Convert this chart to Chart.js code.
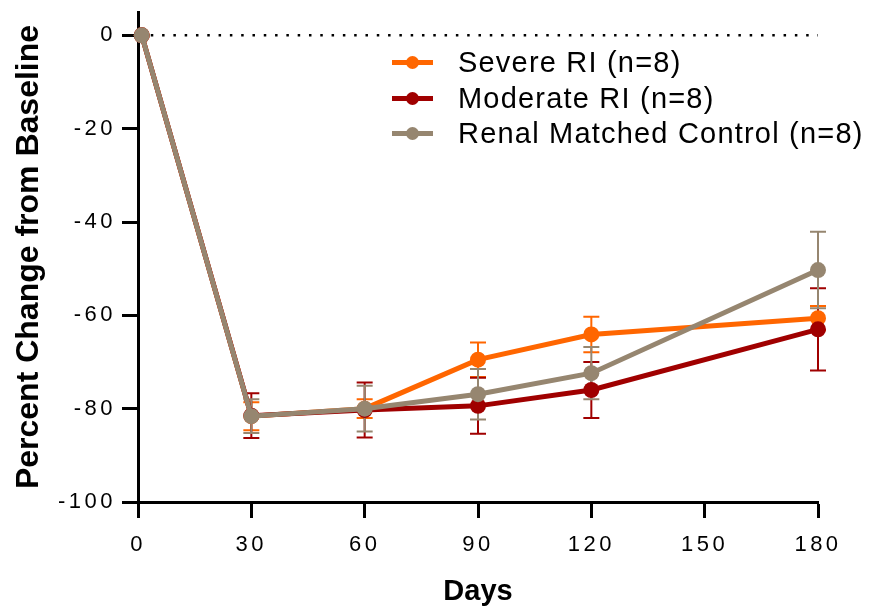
<!DOCTYPE html>
<html>
<head>
<meta charset="utf-8">
<script src="https://cdn.jsdelivr.net/npm/chart.js@4.4.1/dist/chart.umd.min.js"></script>
<style>
  html,body{margin:0;padding:0;background:#fff}
  #wrap{position:relative;width:870px;height:606px}
  #lg{position:absolute;left:392px;top:45px;font:29px 'Liberation Sans',Arial,sans-serif;letter-spacing:1.2px;color:#000}
  #lg div{height:35.5px;display:flex;align-items:center;white-space:nowrap}
  #lg i{display:inline-block;position:relative;width:41px;height:5px;margin-right:25px}
  #lg b{position:absolute;left:14px;top:-4px;width:13px;height:13px;border-radius:50%}
</style>
</head>
<body>
<div id="wrap">
  <canvas id="c"></canvas>
  <div id="lg"></div>
</div>
<script>
/* 기준 대비 변화율 — 그룹별 평균 ± SD */
const DAYS      = [1, 30, 60, 90, 120, 180];
const X_TICKS   = [0, 30, 60, 90, 120, 150, 180];
const Y_TICKS   = [-100, -80, -60, -40, -20, 0];

const NAMES     = ['Severe RI (n=8)', 'Moderate RI (n=8)', 'Renal Matched Control (n=8)'];
const COLORS    = ['#FF6600', '#A00000', '#968670'];

const SEVERE      = [0, -81.6, -80.0, -69.5, -64.1, -60.6];
const SEVERE_SD   = [0,   3.0,   2.0,   3.7,   3.8,   2.6];
const MODERATE    = [0, -81.5, -80.3, -79.4, -76.0, -63.0];
const MODERATE_SD = [0,   4.8,   5.9,   6.0,   6.0,   8.8];
const CONTROL     = [0, -81.6, -80.0, -76.9, -72.4, -50.3];
const CONTROL_SD  = [0,   3.6,   4.9,   5.4,   5.6,   8.2];

const VALUES = [SEVERE, MODERATE, CONTROL];
const SDS    = [SEVERE_SD, MODERATE_SD, CONTROL_SD];

const FONT = "'Liberation Sans', Arial, sans-serif";

/* ── 오차막대 + 0 기준 점선 ─────────────────────────────── */
const errorBars = {
  id:'errorBars',
  beforeDraw(chart){ chart.ctx.letterSpacing = '0px'; },
  beforeDatasetsDraw(chart){
    const {ctx, scales:{x, y}} = chart;
    // 0 기준선 (점선)
    ctx.save();
    ctx.strokeStyle = '#000'; ctx.lineWidth = 2.5; ctx.setLineDash([2.5, 8.8]);
    ctx.beginPath();
    ctx.moveTo(x.getPixelForValue(DAYS[0]) + 9, y.getPixelForValue(0));
    ctx.lineTo(x.getPixelForValue(X_TICKS[X_TICKS.length-1]), y.getPixelForValue(0));
    ctx.stroke();
    ctx.restore();
    // 평균 ± SD
    VALUES.forEach((vals, si)=>{
      ctx.save();
      ctx.strokeStyle = COLORS[si]; ctx.lineWidth = 2;
      vals.forEach((v, i)=>{
        const sd = SDS[si][i];
        if(!sd) return;
        const px = x.getPixelForValue(DAYS[i]);
        const t = y.getPixelForValue(v + sd), b = y.getPixelForValue(v - sd);
        ctx.beginPath();
        ctx.moveTo(px, t); ctx.lineTo(px, b);
        ctx.moveTo(px - 8, t); ctx.lineTo(px + 8, t);
        ctx.moveTo(px - 8, b); ctx.lineTo(px + 8, b);
        ctx.stroke();
      });
      ctx.restore();
    });
  },
  afterDatasetsDraw(chart){ chart.ctx.letterSpacing = '3.5px'; },   // 눈금 라벨 자간
  afterDraw(chart){ chart.ctx.letterSpacing = '0px'; }
};

const datasets = VALUES.map((vals, i)=>({
  label: NAMES[i],
  data: DAYS.map((d, j)=>({x:d, y:vals[j]})),
  borderColor: COLORS[i], backgroundColor: COLORS[i],
  pointBackgroundColor: COLORS[i], pointBorderColor: COLORS[i],
  borderWidth: 5, pointRadius: 8, pointBorderWidth: 0,
  tension: 0, clip: false,
  order: 3 - i          // Control 위에
}));

new Chart(document.getElementById('c'), {
  type:'line',
  data:{datasets},
  plugins:[errorBars],
  options:{
    responsive:true, maintainAspectRatio:false, animation:false,
    layout:{padding:{top:12, right:52, left:0, bottom:0}},
    plugins:{legend:{display:false}, tooltip:{enabled:false}},
    scales:{
      x:{
        type:'linear', min:0, max:180,
        afterBuildTicks: s => { s.ticks = X_TICKS.map(v=>({value:v})); },
        afterFit: s => { s.height = 104; s.paddingLeft = 0; s.paddingRight = 0; },
        border:{color:'#000', width:3},
        grid:{drawOnChartArea:false, tickLength:16, tickWidth:3, tickColor:'#000'},
        ticks:{z:1, color:'#000', padding:14, maxRotation:0, font:{family:FONT, size:22}},
        title:{display:true, text:'Days', color:'#000', padding:{bottom:-3},
               font:{family:FONT, size:29, weight:'bold'}}
      },
      y:{
        min:-100, max:5,
        afterBuildTicks: s => { s.ticks = Y_TICKS.map(v=>({value:v})); },
        afterFit: s => { s.width = 138; s.paddingTop = 0; s.paddingBottom = 0; },
        border:{color:'#000', width:3},
        grid:{drawOnChartArea:false, tickLength:16, tickWidth:3, tickColor:'#000'},
        ticks:{z:1, color:'#000', padding:6, font:{family:FONT, size:22}},
        title:{display:true, text:'Percent Change from Baseline', color:'#000', padding:{top:10},
               font:{family:FONT, size:32, weight:'bold'}}
      }
    }
  }
});

// 범례
document.getElementById('lg').innerHTML = NAMES.map((n,i)=>
  `<div><i style="background:${COLORS[i]}"><b style="background:${COLORS[i]}"></b></i>${n}</div>`).join('');
</script>
</body>
</html>
